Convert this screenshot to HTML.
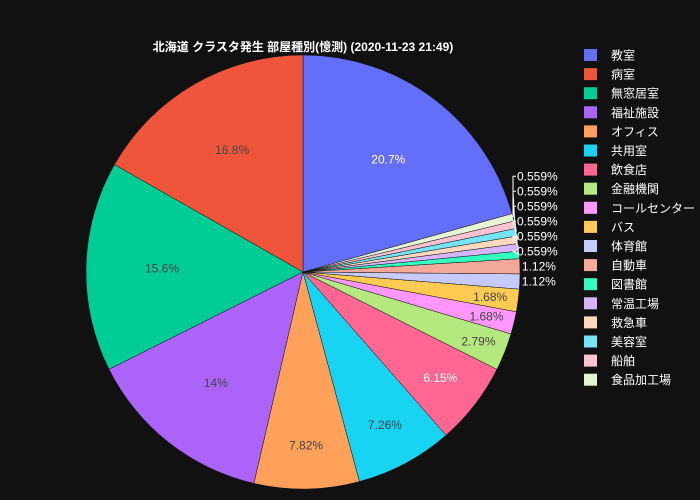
<!DOCTYPE html>
<html><head><meta charset="utf-8"><style>
body{margin:0;background:#111111;}
svg{display:block;font-family:"Liberation Sans","Noto Sans CJK JP",sans-serif;}
</style></head><body>
<svg id="chart" width="700" height="500">
<rect width="700" height="500" fill="#111111"/>
<text x="303" y="51" fill="#ffffff" font-size="12" text-anchor="middle" font-weight="bold">北海道 クラスタ発生 部屋種別(憶測) (2020-11-23 21:49)</text>
<g id="slices"></g><g id="labels"></g><g id="legend"></g>
</svg>
<script>
const categories=["教室","病室","無窓居室","福祉施設","オフィス","共用室","飲食店","金融機関","コールセンター","バス","体育館","自動車","図書館","常温工場","救急車","美容室","船舶","食品加工場"];
const counts=[37,30,28,25,14,13,11,5,3,3,2,2,1,1,1,1,1,1];
const colors=["#636efa","#EF553B","#00cc96","#ab63fa","#FFA15A","#19d3f3","#FF6692","#B6E880","#FF97FF","#FECB52","#c6caff","#f4a89a","#33ffc0","#d5b5ff","#ffd9bd","#75e4f7","#ffc2d3","#e5f5d6"];
const whiteText=[true,false,false,false,false,false,true,false,false,false];
const NS="http://www.w3.org/2000/svg";
const cx=303,cy=272,R=217,TAU=Math.PI*2;
const total=counts.reduce((a,b)=>a+b,0);
const sG=document.getElementById('slices'),lG=document.getElementById('labels'),gG=document.getElementById('legend');
function pt(phi,r){return [cx+r*Math.sin(phi),cy-r*Math.cos(phi)];}
function mk(t,attrs){const e=document.createElementNS(NS,t);for(const k in attrs)e.setAttribute(k,attrs[k]);return e;}
function fmt(f){return String(parseFloat((f*100).toPrecision(3)))+"%";}
let A=counts[0]/total*TAU;
let prevY=null;
const outs=[];
counts.forEach((c,i)=>{
  const f=c/total;
  const end=A, start=A-f*TAU; A=start;
  const p1=pt(start,R),p2=pt(end,R);
  const large=f>0.5?1:0;
  const path=mk('path',{d:`M${cx},${cy}L${p1[0]},${p1[1]}A${R},${R} 0 ${large} 1 ${p2[0]},${p2[1]}Z`,fill:colors[i],stroke:'#111111','stroke-width':0.5});
  
  
  sG.appendChild(path);
  const mid=(start+end)/2;
  if(f>=0.015){
    const k=f>=0.12?0.65:(f>=0.05?0.8:0.87);
    const p=pt(mid,R*k);
    const t=mk('text',{x:p[0],y:p[1]+4,'font-size':12,'text-anchor':'middle',fill:whiteText[i]?'#ffffff':'#444444'});
    t.textContent=fmt(f);
    
    
    lG.appendChild(t);
  } else outs.push({i,f,mid});
});
outs.sort((a,b)=>{const ya=pt(a.mid,R)[1],yb=pt(b.mid,R)[1];return yb-ya;});
outs.forEach(o=>{
  const e=pt(o.mid,R);
  let y=e[1];
  if(prevY!==null&&y>prevY-15)y=prevY-15;
  prevY=y;
  let x=e[0]+2;
  if(Math.abs(y-e[1])>1){
    x=517;
    const l=mk('polyline',{points:`${e[0]},${e[1]} 513,${y} 516,${y}`,fill:'none',stroke:'#ffffff','stroke-width':1});
    
    
    lG.appendChild(l);
  }
  const t=mk('text',{x:x,y:y+4,'font-size':12,fill:'#ffffff'});
  t.textContent=fmt(o.f);
  
  
  lG.appendChild(t);
});
categories.forEach((n,i)=>{
  const y=55+i*19.1;
  const g=mk('g',{});
  
  
  g.appendChild(mk('rect',{x:584,y:y-6,width:13,height:12,fill:colors[i]}));
  const t=mk('text',{x:611,y:y+4.5,'font-size':12,fill:'#ffffff'});
  t.textContent=n;
  g.appendChild(t);
  gG.appendChild(g);
});
</script>
</body></html>
